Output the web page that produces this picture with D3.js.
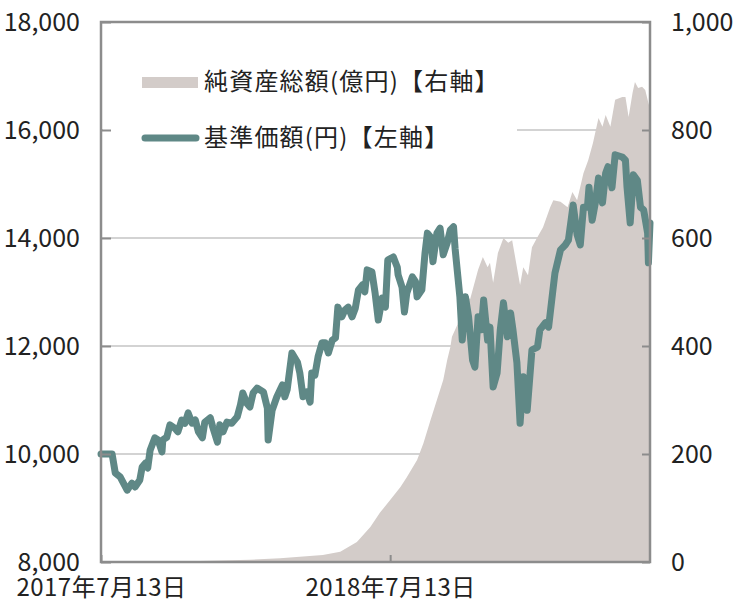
<!DOCTYPE html>
<html>
<head>
<meta charset="utf-8">
<script src="https://cdn.jsdelivr.net/npm/d3@7"></script>
<style>
  body { margin: 0; background: #fff; }
  svg text { font-family: "Noto Sans CJK JP", "Noto Sans", sans-serif; fill: #222; }
</style>
</head>
<body>
<svg id="chart" style="width:737px;height:604px"></svg>
<script>
// 設定日 2017-07-13 からの経過日数
var startDate = new Date(2017, 6, 13);
var endDay = 693;

// 基準価額(円) [経過日数, 値]
var navDays = [0,14,18,24,33,39,43,49,52,56,59,62,68,72,77,78,83,87,93,97,102,106,110,115,119,123,128,131,138,141,147,150,154,159,165,172,176,179,184,188,192,197,205,210,211,216,222,229,232,235,241,248,251,255,260,264,266,270,274,279,283,287,292,296,299,304,308,312,317,321,325,330,333,336,342,346,350,355,359,362,369,374,375,380,383,386,393,397,399,405,409,412,416,419,424,428,432,437,441,445,447,453,456,460,464,469,472,476,480,483,488,491,495,500,504,508,513,517,520,525,529,533,538,544,551,554,561,565,570,573,580,586,590,596,601,605,609,614,616,620,624,628,633,637,640,645,649,658,662,664,668,672,677,681,685,690,691,693];
var navValues = [10000,10000,9650,9580,9330,9460,9390,9520,9760,9830,9740,10070,10300,10260,10040,10260,10310,10540,10480,10410,10630,10570,10760,10570,10630,10410,10300,10590,10670,10500,10220,10540,10410,10590,10570,10690,10910,11130,10940,10870,11130,11220,11150,10850,10260,10810,11060,11280,11060,11190,11870,11700,11500,11060,11150,10960,11500,11460,11800,12060,12060,11870,12110,12150,12720,12540,12670,12720,12540,12700,13040,13130,13000,13410,13370,12980,12480,12890,12720,13590,13650,13460,13320,13090,12630,12980,13280,13190,12910,13040,13720,14090,14020,13560,14090,14180,13690,13910,14150,14210,13800,12910,12110,12910,12540,11740,11610,12540,12300,12850,12110,12350,11240,11500,12300,12800,12170,12610,12300,11690,10570,11430,10810,11930,11980,12300,12430,12350,12980,13350,13780,13870,13960,14610,14060,13870,14570,14570,14940,14330,14650,15110,14650,15200,15320,14930,15540,15500,15440,14940,14280,15170,15070,14570,14520,14090,13540,14280];

// 純資産総額(億円)
var aumDays = [0,125,188,226,280,302,323,340,352,365,378,386,399,407,416,424,432,437,441,443,450,457,466,476,482,488,491,495,501,508,514,519,525,529,533,539,544,551,558,567,571,580,589,595,601,609,615,621,628,633,637,643,649,658,662,666,671,674,678,683,687,691,693];
var aumValues = [0.5,2,4,7,13,19,37,65,91,115,139,157,189,220,263,300,337,374,398,417,440,495,487,541,565,546,554,517,572,600,591,596,546,513,546,531,583,602,620,657,670,667,657,685,670,720,744,776,822,806,828,806,856,861,861,824,869,889,878,880,874,850,840];

var leftTicks = [8000, 10000, 12000, 14000, 16000, 18000];
var rightTicks = [0, 200, 400, 600, 800, 1000];
var xTickDays = [0, 365];
var xTickLabels = ["2017年7月13日", "2018年7月13日"];
var legendLabels = ["純資産総額(億円)【右軸】", "基準価額(円)【左軸】"];

var toDate = function(d){ return d3.timeDay.offset(startDate, d); };
var nav = navDays.map(function(d, i){ return { date: toDate(d), value: navValues[i] }; });
var aum = aumDays.map(function(d, i){ return { date: toDate(d), value: aumValues[i] }; });

var svg = d3.select("#chart");
var width = 737, height = 604;
var margin = { left: 101, right: 87, top: 22, bottom: 42 };

var xScale = d3.scaleTime()
    .domain([startDate, toDate(endDay)])
    .range([margin.left, width - margin.right]);
var yLeft = d3.scaleLinear()
    .domain([8000, 18000])
    .range([height - margin.bottom, margin.top]);
var yRight = d3.scaleLinear()
    .domain([0, 1000])
    .range([height - margin.bottom, margin.top]);

var axisColor = "#8c8c8c";
var lineColor = "#5f8886";
var areaColor = "#d3ccc9";
var fmt = d3.format(",");

// grid lines
svg.append("g")
    .selectAll("line")
    .data(leftTicks.slice(1, -1))
    .enter()
    .append("line")
    .attr("x1", margin.left)
    .attr("x2", width - margin.right)
    .attr("y1", function(d){ return yLeft(d); })
    .attr("y2", function(d){ return yLeft(d); })
    .attr("stroke", "#c4c4c4")
    .attr("stroke-width", 1.5);

// net assets area
var area = d3.area()
    .x(function(d){ return xScale(d.date); })
    .y0(yRight(0))
    .y1(function(d){ return yRight(d.value); });

svg.append("path")
    .datum(aum)
    .attr("fill", areaColor)
    .attr("d", area);

// legend box
var legend = svg.append("g");
legend.append("rect")
    .attr("x", margin.left + 2)
    .attr("y", 52)
    .attr("width", 414)
    .attr("height", 112)
    .attr("fill", "#fff");

legend.append("rect")
    .attr("x", 142)
    .attr("y", 77)
    .attr("width", 56)
    .attr("height", 11)
    .attr("fill", areaColor);

legend.append("line")
    .attr("x1", 145)
    .attr("x2", 196)
    .attr("y1", 138)
    .attr("y2", 138)
    .attr("stroke", lineColor)
    .attr("stroke-width", 7)
    .attr("stroke-linecap", "round");

legend.selectAll("text")
    .data(legendLabels)
    .enter()
    .append("text")
    .attr("x", 204)
    .attr("y", function(d, i){ return 82 + i * 56; })
    .attr("dy", "0.35em")
    .style("font-size", "24px")
    .style("letter-spacing", "1.2px")
    .text(function(d){ return d; });

// NAV line
var line = d3.line()
    .x(function(d){ return xScale(d.date); })
    .y(function(d){ return yLeft(d.value); });

svg.append("path")
    .datum(nav)
    .attr("fill", "none")
    .attr("stroke", lineColor)
    .attr("stroke-width", 7)
    .attr("stroke-linejoin", "round")
    .attr("stroke-linecap", "round")
    .attr("d", line);

// frame
svg.append("rect")
    .attr("x", margin.left)
    .attr("y", margin.top)
    .attr("width", width - margin.left - margin.right)
    .attr("height", height - margin.top - margin.bottom)
    .attr("fill", "none")
    .attr("stroke", axisColor)
    .attr("stroke-width", 2.5);

// left axis
var gl = svg.append("g")
    .attr("transform", "translate(" + margin.left + ",0)")
    .call(d3.axisLeft(yLeft).tickValues(leftTicks).tickFormat(fmt).tickSize(-10).tickPadding(21));
gl.select(".domain").remove();
gl.selectAll(".tick line").attr("stroke", axisColor).attr("stroke-width", 2);
gl.selectAll(".tick text").style("font-size", "25px").attr("fill", "#222");

// right axis
var gr = svg.append("g")
    .attr("transform", "translate(" + (width - margin.right) + ",0)")
    .call(d3.axisRight(yRight).tickValues(rightTicks).tickFormat(fmt).tickSize(-8).tickPadding(21));
gr.select(".domain").remove();
gr.selectAll(".tick line").attr("stroke", axisColor).attr("stroke-width", 2);
gr.selectAll(".tick text").style("font-size", "25px").attr("fill", "#222");

// bottom axis
var gb = svg.append("g")
    .attr("transform", "translate(0," + (height - margin.bottom) + ")")
    .call(d3.axisBottom(xScale)
        .tickValues(xTickDays.map(toDate))
        .tickFormat(function(d, i){ return xTickLabels[i]; })
        .tickSize(-7).tickPadding(17));
gb.select(".domain").remove();
gb.selectAll(".tick line").attr("stroke", axisColor).attr("stroke-width", 2);
gb.selectAll(".tick text").style("font-size", "24px").style("letter-spacing", "0.5px").attr("fill", "#222");
</script>
</body>
</html>
